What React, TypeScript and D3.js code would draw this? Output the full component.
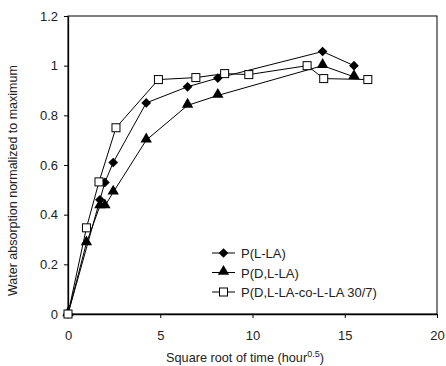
import React, { useEffect, useRef } from "react";
import * as d3 from "d3";

// P(L-LA)
const plla_x = [0, 1.73, 2.0, 2.45, 4.24, 6.48, 8.12, 13.8, 15.5];
const plla_y = [0, 0.46, 0.53, 0.61, 0.85, 0.915, 0.95, 1.057, 1.0];
// P(D,L-LA)
const pdlla_x = [0, 1.0, 1.73, 2.0, 2.45, 4.24, 6.48, 8.12, 13.8, 15.5];
const pdlla_y = [0, 0.286, 0.435, 0.435, 0.49, 0.7, 0.84, 0.88, 1.0, 0.955];
// P(D,L-LA-co-L-LA 30/7)
const pco_x = [0, 1.0, 1.68, 2.6, 4.9, 6.93, 8.49, 9.8, 12.96, 13.86, 16.25];
const pco_y = [0, 0.347, 0.532, 0.75, 0.944, 0.952, 0.968, 0.964, 1.0, 0.948, 0.944];

const seriesNames = ["P(L-LA)", "P(D,L-LA)", "P(D,L-LA-co-L-LA 30/7)"];
const xTicks = [0, 5, 10, 15, 20];
const yTicks = [0, 0.2, 0.4, 0.6, 0.8, 1, 1.2];

export default function App() {
  const ref = useRef<SVGSVGElement>(null);

  useEffect(() => {
    const width = 446, height = 366;
    const svg = d3.select(ref.current);
    svg.selectAll("*").remove();

    const x = d3.scaleLinear().domain([0, 20]).range([68, 437]);
    const y = d3.scaleLinear().domain([0, 1.2]).range([314, 16]);
    const font = "Liberation Sans, Arial, sans-serif";

    // frame
    svg.append("rect")
      .attr("x", x(0)).attr("y", y(1.2))
      .attr("width", x(20) - x(0)).attr("height", y(0) - y(1.2))
      .attr("fill", "none").attr("stroke", "black").attr("stroke-width", 1);

    // x axis
    const xa = svg.append("g").attr("transform", `translate(0,${y(0)})`)
      .call(d3.axisBottom(x).tickValues(xTicks).tickSize(4).tickSizeOuter(0).tickFormat(d3.format("d")));
    xa.select(".domain").attr("stroke-width", 1.3);
    xa.selectAll("text").attr("font-size", 13).attr("font-family", font).attr("fill", "#222").attr("dy", "1.45em");

    const ya = svg.append("g").attr("transform", `translate(${x(0)},0)`)
      .call(d3.axisLeft(y).tickValues(yTicks).tickSize(4).tickSizeOuter(0).tickFormat((d: any) => String(+d)));
    ya.select(".domain").attr("stroke-width", 1.3);
    ya.selectAll("text").attr("font-size", 13).attr("font-family", font).attr("fill", "#222").attr("x", -10);

    // axis titles
    const xt = svg.append("text")
      .attr("x", 245).attr("y", 362)
      .attr("text-anchor", "middle")
      .attr("font-size", 12.7).attr("font-family", font).attr("fill", "#222");
    xt.append("tspan").text("Square root of time (hour");
    xt.append("tspan").attr("font-size", 9).attr("dy", -5).text("0.5");
    xt.append("tspan").attr("dy", 5).text(")");

    svg.append("text")
      .attr("transform", `translate(17,296) rotate(-90)`)
      .attr("text-anchor", "start")
      .attr("font-size", 12.5).attr("font-family", font).attr("fill", "#222")
      .text("Water absorption normalized to maximum");

    const line = d3.line<[number, number]>().x(d => x(d[0])).y(d => y(d[1]));
    const zip = (a: number[], b: number[]) => a.map((v, i) => [v, b[i]] as [number, number]);
    const series = [zip(plla_x, plla_y), zip(pdlla_x, pdlla_y), zip(pco_x, pco_y)];

    const diamond = d3.symbol().type(d3.symbolDiamond2).size(60)();
    const tri = d3.symbol().type(d3.symbolTriangle).size(56)();

    const drawMarker = (g: any, k: number, cx: number, cy: number) => {
      if (k === 0) {
        g.append("path").attr("d", diamond).attr("transform", `translate(${cx},${cy})`).attr("fill", "black");
      } else if (k === 1) {
        g.append("path").attr("d", tri).attr("transform", `translate(${cx},${cy - 1})`).attr("fill", "black");
      } else {
        g.append("rect").attr("x", cx - 4).attr("y", cy - 4).attr("width", 8).attr("height", 8)
          .attr("fill", "white").attr("stroke", "black").attr("stroke-width", 1);
      }
    };

    series.forEach((pts, k) => {
      const g = svg.append("g");
      g.append("path").attr("d", line(pts)).attr("fill", "none").attr("stroke", "black").attr("stroke-width", 1);
      pts.forEach(p => drawMarker(g, k, x(p[0]), y(p[1])));
    });

    // legend
    seriesNames.forEach((name, k) => {
      const ly = 253 + k * 19.5;
      const g = svg.append("g");
      g.append("line").attr("x1", 212).attr("x2", 235).attr("y1", ly).attr("y2", ly).attr("stroke", "black");
      drawMarker(g, k, 223.5, ly);
      g.append("text").attr("x", 241).attr("y", ly + 5)
        .attr("font-size", 13).attr("font-family", font).attr("fill", "#222").text(name);
    });

    svg.attr("width", width).attr("height", height);
  }, []);

  return <svg ref={ref} width={446} height={366} style={{ position: "absolute", left: 0, top: 0 }} />;
}
